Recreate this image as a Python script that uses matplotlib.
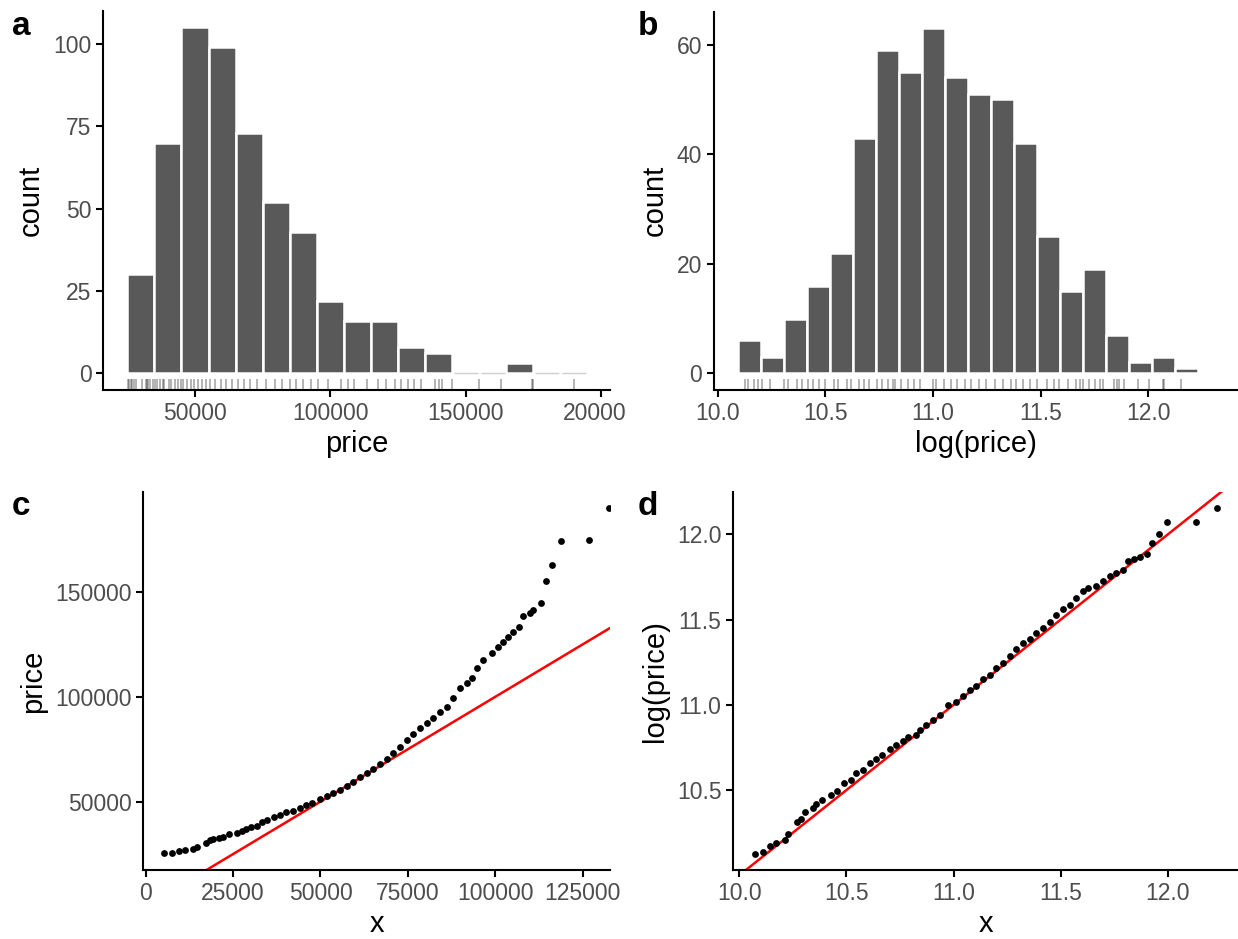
import numpy as np
import matplotlib.pyplot as plt
from matplotlib.transforms import Bbox, TransformedBbox

plt.rcParams['font.family'] = ['Liberation Sans', 'DejaVu Sans']

# ---- data ----
# panel a: histogram of price (bins of 10000 starting at 25000)
price_bin_start = 25000
price_bin_width = 10000
price_counts = [30, 70, 105, 99, 73, 52, 43, 22, 16, 16, 8, 6, 0, 0, 3, 0, 0]

# panel b: histogram of log(price), 20 bins
logp_bin_start = 10.096
logp_bin_width = 0.1067
logp_counts = [6, 3, 10, 16, 22, 43, 59, 55, 63, 54, 51, 50, 42, 25, 15, 19, 7, 2, 3, 1]

# panel c: normal QQ plot of price (theoretical quantile x, sample price)
qq_price_x = [5330, 7620, 9520, 11150, 13620, 14580, 17250, 18390, 19340, 20960,
              22200, 23920, 26210, 27450, 28590, 30020, 31740, 33170, 34600, 36790,
              38410, 40130, 42220, 44130, 45850, 47470, 49850, 51760, 53660, 55570,
              57480, 59380, 61290, 63200, 65100, 67010, 68920, 70820, 72730, 74640,
              76540, 78450, 80360, 82260, 84170, 86080, 87980, 89890, 91800, 93230,
              94660, 96560, 98950, 100850, 102280, 103710, 105140, 106860, 107810, 109910,
              110860, 113060, 114490, 116300, 118680, 126790, 132600]
qq_price_y = [25390, 25710, 26500, 26820, 27460, 28250, 30470, 31750, 32380, 32540,
              33330, 34450, 35240, 36040, 36990, 38100, 38580, 40330, 41280, 42550,
              43660, 44930, 45570, 47160, 48430, 49540, 51130, 52720, 53990, 55580,
              57480, 59550, 61610, 63520, 65740, 67970, 70190, 73050, 76230, 79410,
              82270, 84970, 87350, 89730, 92910, 95290, 99270, 104030, 106420, 108800,
              113560, 117530, 120710, 123890, 126270, 128650, 131040, 133420, 138510, 140090,
              141370, 144860, 155030, 162970, 174410, 174890, 189820]

# panel d: normal QQ plot of log(price)
qq_logp_x = [10.072, 10.110, 10.142, 10.170, 10.212, 10.227, 10.271, 10.289, 10.305, 10.344,
             10.359, 10.387, 10.429, 10.456, 10.487, 10.523, 10.546, 10.577, 10.608, 10.639,
             10.667, 10.701, 10.733, 10.764, 10.787, 10.826, 10.841, 10.872, 10.904, 10.935,
             10.974, 11.012, 11.044, 11.075, 11.106, 11.137, 11.168, 11.199, 11.230, 11.261,
             11.292, 11.323, 11.355, 11.386, 11.417, 11.448, 11.479, 11.510, 11.541, 11.572,
             11.603, 11.627, 11.666, 11.697, 11.728, 11.759, 11.790, 11.813, 11.844, 11.868,
             11.904, 11.925, 11.958, 11.997, 12.132, 12.230]
qq_logp_y = [10.126, 10.139, 10.169, 10.188, 10.208, 10.243, 10.310, 10.329, 10.370, 10.394,
             10.419, 10.443, 10.472, 10.497, 10.540, 10.560, 10.599, 10.619, 10.658, 10.681,
             10.705, 10.740, 10.765, 10.789, 10.814, 10.824, 10.853, 10.883, 10.912, 10.941,
             11.000, 11.014, 11.053, 11.084, 11.111, 11.151, 11.176, 11.215, 11.248, 11.288,
             11.327, 11.362, 11.385, 11.420, 11.450, 11.483, 11.528, 11.561, 11.587, 11.626,
             11.665, 11.685, 11.698, 11.724, 11.753, 11.776, 11.792, 11.841, 11.855, 11.866,
             11.886, 11.952, 12.003, 12.070, 12.072, 12.154]

a_xticks = [50000, 100000, 150000, 200000]
a_yticks = [0, 25, 50, 75, 100]
b_xticks = [10.0, 10.5, 11.0, 11.5, 12.0]
b_yticks = [0, 20, 40, 60]
c_xticks = [0, 25000, 50000, 75000, 100000, 125000]
c_yticks = [50000, 100000, 150000]
d_xticks = [10.0, 10.5, 11.0, 11.5, 12.0]
d_yticks = [10.5, 11.0, 11.5, 12.0]

W, H = 1238, 939
fig = plt.figure(figsize=(W / 100, H / 100), dpi=100)


def px_axes(left, top, right, bottom):
    return fig.add_axes([left / W, 1 - bottom / H, (right - left) / W, (bottom - top) / H])


def style(ax, xticks, yticks, xfmt, yfmt):
    for s in ['top', 'right']:
        ax.spines[s].set_visible(False)
    for s in ['left', 'bottom']:
        ax.spines[s].set_linewidth(1.5)
    ax.set_xticks(xticks)
    ax.set_xticklabels([xfmt.format(v) for v in xticks])
    ax.set_yticks(yticks)
    ax.set_yticklabels([yfmt.format(v) for v in yticks])
    ax.tick_params(direction='out', length=5, width=1.5, color='black',
                   labelcolor='#4D4D4D', labelsize=16.5, pad=3.5)


def histogram(ax, start, width, counts):
    counts = np.array(counts, dtype=float)
    lefts = start + width * np.arange(len(counts))
    full = counts > 0
    ax.bar(lefts[full], counts[full], width=width, align='edge',
           color='#595959', edgecolor='white', linewidth=1.8, zorder=2)
    ax.hlines(np.zeros((~full).sum()), lefts[~full] + width * 0.05,
              lefts[~full] + width * 0.95, color='#cfcfcf', lw=1, zorder=2)


def rug(ax, values):
    ax.vlines(values, 0, 0.03, transform=ax.get_xaxis_transform(),
              colors='black', alpha=0.35, lw=1.2, zorder=1)


cell_clip = TransformedBbox(Bbox.from_extents(0, 0, 625 / W, 1), fig.transFigure)

# a
ax = px_axes(103.3, 11, 610, 390)
histogram(ax, price_bin_start, price_bin_width, price_counts)
rug(ax, qq_price_y)
ax.set_xlim(16120, 203300)
ax.set_ylim(-5.1, 110)
style(ax, a_xticks, a_yticks, '{:d}', '{:d}')
ax.set_xlabel('price', fontsize=21, labelpad=4)
ax.set_ylabel('count', fontsize=21, labelpad=6)
for t in ax.get_xticklabels():
    t.set_clip_box(cell_clip)
    t.set_clip_on(True)

# b
ax = px_axes(714, 11.7, 1238, 390)
histogram(ax, logp_bin_start, logp_bin_width, logp_counts)
rug(ax, qq_logp_y)
ax.set_xlim(9.983, 12.417)
ax.set_ylim(-3.04, 66.0)
style(ax, b_xticks, b_yticks, '{:.1f}', '{:d}')
ax.set_xlabel('log(price)', fontsize=21, labelpad=4)
ax.set_ylabel('count', fontsize=21, labelpad=6)

# c
ax = px_axes(143.3, 491.7, 610, 870)
ax.scatter(qq_price_x, qq_price_y, s=24, color='black', linewidths=0, zorder=3)
ax.axline((0, 0), slope=1, color='red', lw=1.8, zorder=2)
ax.set_xlim(-680, 132800)
ax.set_ylim(17400, 197800)
style(ax, c_xticks, c_yticks, '{:d}', '{:d}')
ax.set_xlabel('x', fontsize=21, labelpad=4)
ax.set_ylabel('price', fontsize=21, labelpad=6)
for t in ax.get_xticklabels():
    t.set_clip_box(cell_clip)
    t.set_clip_on(True)

# d
ax = px_axes(733.3, 491.7, 1238, 870)
ax.scatter(qq_logp_x, qq_logp_y, s=24, color='black', linewidths=0, zorder=3)
ax.axline((10, 10), slope=1, color='red', lw=1.8, zorder=2)
ax.set_xlim(9.972, 12.327)
ax.set_ylim(10.031, 12.25)
style(ax, d_xticks, d_yticks, '{:.1f}', '{:.1f}')
ax.set_xlabel('x', fontsize=21, labelpad=4)
ax.set_ylabel('log(price)', fontsize=21, labelpad=6)

# panel tags
for tag, x, y in [('a', 12, 35), ('b', 638, 35), ('c', 12, 515), ('d', 638, 515)]:
    fig.text(x / W, 1 - y / H, tag, fontsize=24, fontweight='bold', ha='left', va='baseline')

fig.savefig('out.png', dpi=100)
